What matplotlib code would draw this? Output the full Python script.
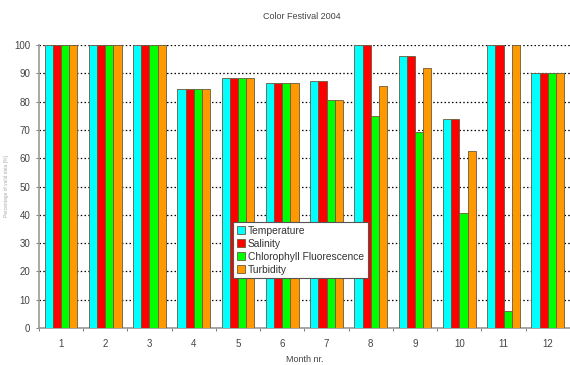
import numpy as np
import matplotlib
matplotlib.use('Agg')
import matplotlib.pyplot as plt

plt.rcParams['font.family'] = ['Liberation Sans', 'DejaVu Sans']

MONTHS = [1, 2, 3, 4, 5, 6, 7, 8, 9, 10, 11, 12]
SERIES_NAMES = ["Temperature", "Salinity", "Chlorophyll Fluorescence", "Turbidity"]
SERIES_COLORS = ["#00FFFF", "#FF0000", "#00FF00", "#FF9900"]

temperature = [100, 100, 100, 84.3, 88.4, 86.4, 87.1, 100, 96.0, 73.7, 100, 90]
salinity    = [100, 100, 100, 84.3, 88.4, 86.4, 87.1, 100, 96.0, 73.7, 100, 90]
chlorophyll = [100, 100, 100, 84.3, 88.4, 86.4, 80.4, 75.0, 69.2, 40.5, 6.2, 90]
turbidity   = [100, 100, 100, 84.3, 88.4, 86.4, 80.4, 85.4, 92.0, 62.7, 100, 90]

TITLE = "Color Festival 2004"
XLABEL = "Month nr."
YLABEL = "Percentage of valid data [%]"

fig = plt.figure(figsize=(5.7, 3.65), dpi=100)
ax = fig.add_axes([0.068, 0.101, 0.932, 0.776])

x = np.array(MONTHS, dtype=float)
bw = 0.185
all_vals = [temperature, salinity, chlorophyll, turbidity]
for i, (vals, col, name) in enumerate(zip(all_vals, SERIES_COLORS, SERIES_NAMES)):
    ax.bar(x + (i - 1.5) * bw, vals, width=bw, color=col,
           edgecolor='#6a5a3a', linewidth=0.6, label=name, zorder=3)

ax.set_xlim(0.5, 12.5)
ax.set_ylim(0, 100)
ax.set_yticks(np.arange(0, 101, 10))
ax.set_xticks(np.arange(0.5, 12.6, 1.0))
ax.set_xticklabels([])
ax.set_xticks(x, minor=True)
ax.set_xticklabels([str(m) for m in MONTHS], minor=True)
ax.tick_params(axis='x', which='minor', length=0, pad=8, labelsize=7, labelcolor='#444444')
ax.tick_params(axis='x', which='major', length=2, width=0.6, color='#666666')
ax.tick_params(axis='y', length=2, width=0.6, color='#666666', labelsize=7,
               labelcolor='#444444', pad=4)

ax.yaxis.grid(True, linestyle=(0, (1.2, 1.8)), color='black', linewidth=0.9, zorder=1)
ax.set_axisbelow(True)
for s in ['top', 'right']:
    ax.spines[s].set_visible(False)
ax.spines['left'].set_color('#999999')
ax.spines['bottom'].set_color('#999999')
ax.spines['left'].set_linewidth(1.2)
ax.spines['bottom'].set_linewidth(1.2)

fig.text(0.53, 0.955, TITLE, ha='center', va='center', fontsize=6.5, color='#444444')
ax.set_xlabel(XLABEL, fontsize=6.5, color='#444444', labelpad=4)
fig.text(0.012, 0.49, YLABEL, rotation=90, ha='center', va='center', fontsize=3.5, color='#aaaaaa')

leg = ax.legend(loc='upper left', bbox_to_anchor=(233 / 570, 1 - 222 / 365),
                bbox_transform=fig.transFigure, fontsize=7.4, frameon=True,
                fancybox=False, framealpha=1, handlelength=0.8, handleheight=0.8,
                handletextpad=0.3, borderpad=0.35, labelspacing=0.3,
                borderaxespad=0)
leg.get_frame().set_edgecolor('#555555')
leg.get_frame().set_linewidth(0.8)
for t in leg.get_texts():
    t.set_color('#333333')

fig.savefig('out.png', dpi=100)
